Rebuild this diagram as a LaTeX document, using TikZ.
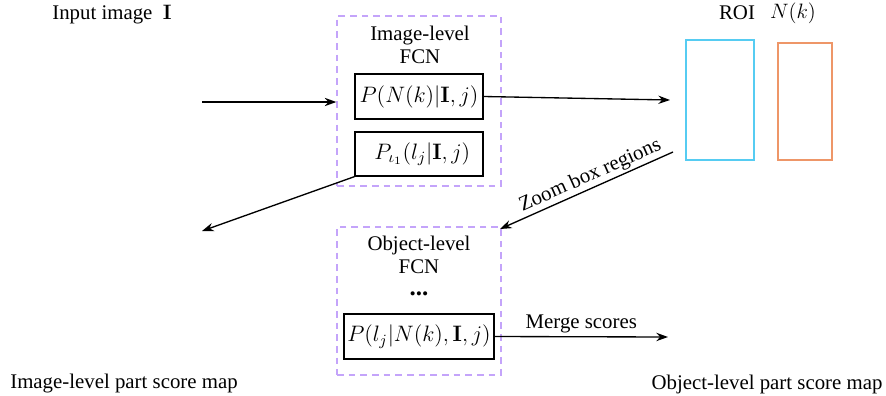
\RequirePackage{fix-cm}
\documentclass[tikz,border=0pt]{standalone}
\usepackage[no-math]{fontspec}
\setmainfont{Liberation Serif}
\usetikzlibrary{arrows.meta}
\definecolor{fcnpurple}{RGB}{196,164,250}
\definecolor{roicyan}{RGB}{86,204,242}
\definecolor{roiorange}{RGB}{238,150,104}
\tikzset{
  arr/.style={-{Stealth[length=7pt,width=5pt]}, line width=0.8pt},
  fcnframe/.style={draw=fcnpurple, dashed, dash pattern=on 4pt off 3pt, line width=0.8pt, inner sep=0pt},
  probbox/.style={draw, line width=0.8pt, inner sep=0pt, font=\fontsize{13.4}{16}\selectfont},
  lbl/.style={inner sep=0pt, font=\fontsize{12.5}{14}\selectfont},
}
\begin{document}
\begin{tikzpicture}[x=0.6pt, y=-0.6pt]
\useasboundingbox (0,0) rectangle (886,395);

% image-level FCN frame
\node[fcnframe, minimum width=98.4pt, minimum height=102pt] (imgfcn) at (419,101) {};
\node[lbl, align=center] (imgtitle) at (420,45) {Image-level\\FCN};
\node[probbox, minimum width=76.8pt, minimum height=27pt] (pn) at (419,96.5) {$P(N(k)|\mathbf{I},j)$};
\node[probbox, minimum width=76.8pt, minimum height=26.4pt] (pl) at (419,154) {\hspace{4pt}$P_{\iota_1}(l_j|\mathbf{I},j)$};

% object-level FCN frame
\node[fcnframe, minimum width=98.4pt, minimum height=88.8pt] (objfcn) at (419,301) {};
\node[lbl, align=center] (objtitle) at (419,255) {Object-level\\FCN};
\node[lbl, font=\fontsize{15}{16}\selectfont\bfseries] (dots) at (419,294) {...};
\node[probbox, minimum width=90pt, minimum height=27pt] (po) at (419,336.5) {$P(l_j|N(k),\mathbf{I},j)$};

% ROI boxes
\node[draw=roicyan, line width=0.9pt, minimum width=40.8pt, minimum height=72pt, inner sep=0pt] (roi) at (720,100) {};
\node[draw=roiorange, line width=0.9pt, minimum width=32.4pt, minimum height=70.2pt, inner sep=0pt] (nk) at (805,101.5) {};
\node[lbl] (roilbl) at (737,13) {ROI};
\node[lbl] (nklbl) at (793,13) {$N(k)$};

% free labels
\node[lbl] (input) at (112,15) {Input image \ $\mathbf{I}$};
\node[lbl] (imgmap) at (124,384) {Image-level part score map};
\node[lbl] (objmap) at (767,384) {Object-level part score map};

% connector ends
\coordinate (inL) at (202,102);
\coordinate (roiIn) at (670,100);
\coordinate (imgOut) at (202,231);
\coordinate (zoomFrom) at (673,152);
\coordinate (zoomTo) at (500,229);
\coordinate (mergeTo) at (668,337);

% connectors
\draw[arr] (inL) -- (inL -| imgfcn.west);
\draw[arr] (pn.east) -- (roiIn);
\draw[arr] (pl.south west) -- (imgOut);
\draw[arr] (zoomFrom) -- node[pos=0.45, sloped, above, lbl, yshift=1pt] {Zoom box regions} (zoomTo);
\draw[arr] (po.east) -- node[above, lbl, yshift=2pt] {Merge scores} (mergeTo);
\end{tikzpicture}
\end{document}
